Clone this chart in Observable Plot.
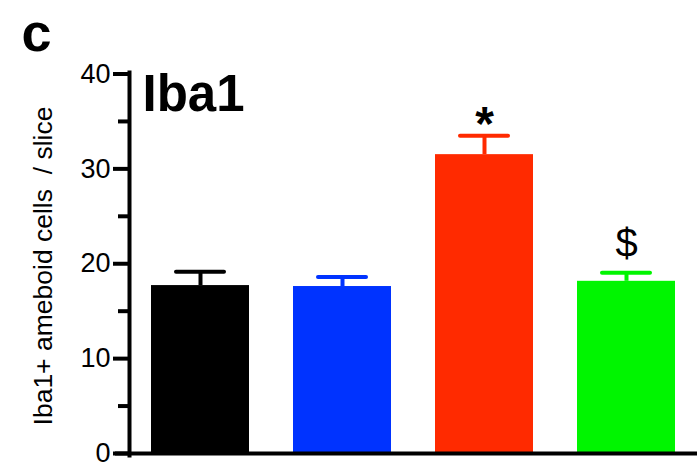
<!DOCTYPE html>
<html><head><meta charset="utf-8">
<script src="https://cdn.jsdelivr.net/npm/d3@7"></script>
<script src="https://cdn.jsdelivr.net/npm/@observablehq/plot@0.6"></script>
<style>html,body{margin:0;padding:0;background:#fff;}</style>
</head><body><div id="chart"></div>
<script>
const groups = ["A", "B", "C", "D"];
const means = [17.7, 17.6, 31.5, 18.15];
const sems = [1.45, 1.0, 2.0, 0.9];
const colors = ["#000000", "#0033ff", "#ff2a00", "#00f500"];
const sigMarks = ["", "", "*", "$"];
const yTicks = [0, 10, 20, 30, 40];
const yMinorTicks = [5, 15, 25, 35];
const yLabel = "Iba1+ ameboid cells\u00a0 / slice";
const panelLetter = "c";
const panelTitle = "Iba1";

const data = groups.map((g, i) => ({group: g, mean: means[i], upper: means[i] + sems[i], mark: sigMarks[i]}));
const font = "'Liberation Sans', Arial, Helvetica, sans-serif";

const chart = Plot.plot({
  width: 697, height: 465,
  marginLeft: 129, marginRight: 0, marginTop: 72, marginBottom: 10,
  style: {fontFamily: font, background: "#fff", color: "#000", overflow: "visible"},
  x: {domain: groups, range: [127, 698], paddingInner: 0.31, paddingOuter: 0.155, axis: null},
  y: {domain: [0, 40], range: [453, 73.5], axis: null},
  color: {domain: groups, range: colors},
  marks: [
    Plot.ruleX(data, {x: "group", y1: "mean", y2: "upper", stroke: "group", strokeWidth: 4}),
    Plot.tickY(data, {x: "group", y: "upper", stroke: "group", strokeWidth: 4, insetLeft: 25, insetRight: 25, strokeLinecap: "round"}),
    Plot.barY(data, {x: "group", y: "mean", fill: "group"}),
    Plot.ruleY([0], {strokeWidth: 4, insetLeft: -14}),
    Plot.frame({anchor: "left", strokeWidth: 4}),
    Plot.axisY({ticks: yTicks, tickSize: 16, tickPadding: 3, strokeWidth: 4, fontSize: 27, label: null, tickFormat: d => d}),
    Plot.axisY({ticks: yMinorTicks, tickSize: 11, strokeWidth: 4, label: null, tickFormat: () => ""}),
    Plot.text([yLabel], {frameAnchor: "left", text: d => d, rotate: -90, dx: -86, dy: 2, fontSize: 26.5, textAnchor: "middle", lineAnchor: "middle"}),
    Plot.text([panelLetter], {frameAnchor: "top-left", text: d => d, dx: -108, dy: -22, fontSize: 54, fontWeight: "bold", textAnchor: "start", lineAnchor: "bottom"}),
    Plot.text([panelTitle], {frameAnchor: "top-left", text: d => d, dx: 13, dy: 38, fontSize: 51, fontWeight: "bold", textAnchor: "start", lineAnchor: "bottom"}),
    Plot.text(data.filter(d => d.mark === "*"), {x: "group", y: "upper", text: "mark", dy: 4, fontSize: 48, fontWeight: "bold", lineAnchor: "bottom"}),
    Plot.text(data.filter(d => d.mark === "$"), {x: "group", y: "upper", text: "mark", dy: -16, fontSize: 40, lineAnchor: "bottom"})
  ]
});
document.getElementById("chart").appendChild(chart);
</script>
</body></html>
